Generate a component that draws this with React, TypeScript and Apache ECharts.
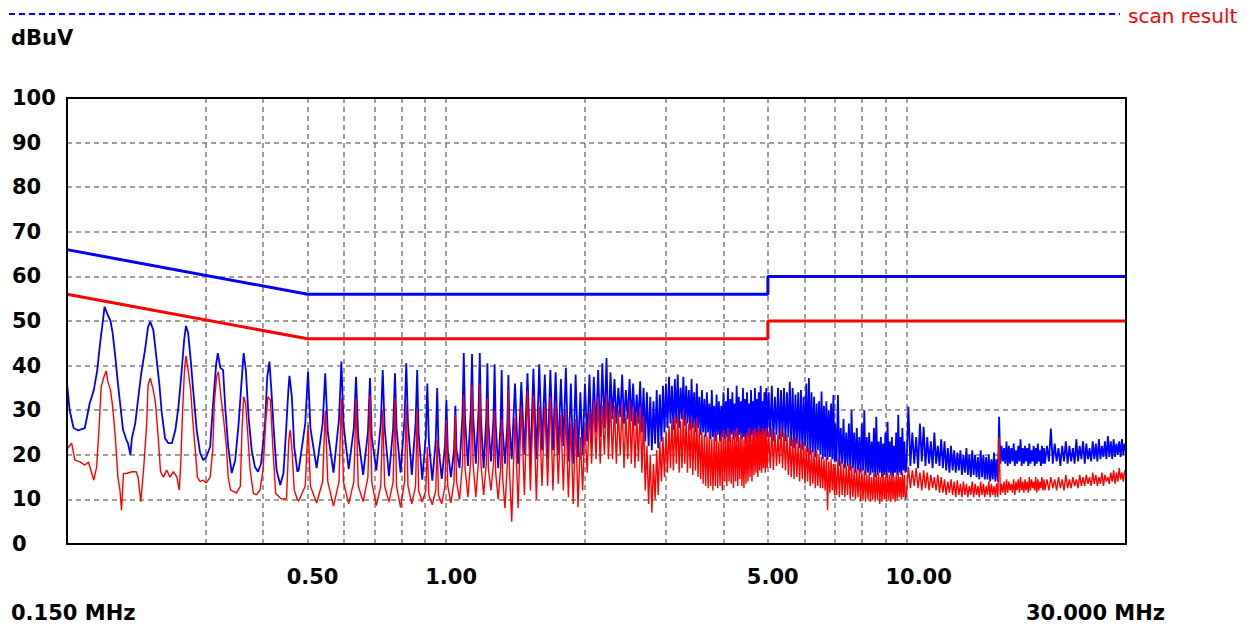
import React, { useEffect, useRef } from "react";
import * as echarts from "echarts";

// ---- axis ticks ----
const yMin = 0;
const yMax = 100;
const yStep = 10;
const xMinMHz = 0.15;
const xMaxMHz = 30;
const xGridMHz = [0.2, 0.3, 0.4, 0.5, 0.6, 0.7, 0.8, 0.9, 1, 2, 3, 4, 5, 6, 7, 8, 9, 10, 20];
const xLabelMHz = [0.5, 1, 5, 10];

// ---- limit lines (MHz, dBuV) ----
const limitMHz = [0.15, 0.5, 5, 5, 30];
const qpLimit = [66, 56, 56, 60, 60];
const avLimit = [56, 46, 46, 50, 50];

// ---- scan, 0.15 - 0.48 MHz : [kHz, dBuV] ----
const peakLow: [number, number][] = [
  [150, 36], [152, 30], [155, 26], [158.5, 25.5], [164, 26], [168, 31.5], [171.5, 34.5], [174.5, 39], [177, 45], [179.5, 50],
  [181, 53.2], [184, 51.3], [186.5, 50], [188.5, 47.3], [191, 42], [193.5, 36], [196, 30.8], [198.5, 25.6], [202, 23.3], [203.5, 22.6],
  [206, 20], [207.5, 23.7], [211, 27], [214, 32.3], [217.5, 38.3], [222, 44], [225, 48.7], [227.5, 49.8], [231, 48], [234.5, 42],
  [238, 36], [241, 29.4], [245, 23.7], [249, 22.6], [253.5, 22.6], [258, 25.6], [262, 30.8], [266, 38.3], [269.5, 45.7], [272, 48.9],
  [275, 47.3], [278.5, 41.3], [282, 34.5], [287, 25.6], [292, 20.4], [296.5, 18.8], [301, 19.5], [307, 21.8], [312, 32.3], [316.5, 40.5],
  [319, 42.8], [323, 39.5], [327.5, 39], [331, 30.8], [336, 21.8], [342, 15.9], [348, 18.8], [354, 27], [359, 36], [363, 42.8],
  [367, 39], [372, 28.5], [378, 21], [384, 17.3], [390, 16.2], [396, 18], [404, 27], [408.5, 37.5], [413, 40.9], [417, 34.5],
  [422, 25.6], [428, 16.6], [436, 13.2], [443, 15.9], [449, 25.6], [454, 34.5], [456.5, 37.7], [462, 33], [467.5, 21.8], [475, 16.2],
];
const avgLow: [number, number][] = [
  [150, 21.3], [153.5, 22.6], [156, 18.8], [160, 18.4], [164, 17.7], [167, 18.4], [171.5, 14.3], [174, 17.3], [176, 25.6], [178, 35.3],
  [180.5, 37.5], [182.5, 38.8], [184, 36.4], [186.5, 34.5], [188.5, 30.8], [191, 24], [193.5, 15], [195.5, 12.1], [197, 7.6], [199, 15.8],
  [202, 15.8], [207.5, 16.2], [212, 16.2], [214, 15], [217, 9.5], [220, 16.6], [223.5, 27], [225, 35.6], [227.5, 37.2], [231, 34.5],
  [233.5, 31.6], [237, 23.3], [239.5, 16.2], [243, 15], [247, 16.6], [251, 15], [255.5, 16.2], [260, 15], [263, 12.1], [265, 18],
  [267.5, 30], [270, 39], [272, 42.2], [275, 39], [278.5, 34.5], [281, 28.5], [285, 21], [288, 15], [292, 14], [296.5, 14.3],
  [301, 13.7], [307, 15], [311, 21], [313.5, 31.6], [317, 37.5], [320, 38.6], [324, 33], [328, 28.5], [333, 21.8], [336, 15],
  [340, 12.1], [345, 11.8], [350, 11.4], [357, 12.9], [360, 25.6], [363, 33], [366.5, 31.6], [370, 25.6], [375, 16.6], [381, 11.4],
  [387, 11], [394, 12.1], [400, 16.6], [406, 28.5], [410, 33], [415, 32.3], [420, 21.8], [426, 11.4], [436, 10.3], [443, 10],
  [450, 10.3], [455, 23.3], [458, 25.6], [462, 21.8], [467.5, 12.1], [475, 10],
];

// ---- scan, 0.48 - 1.37 MHz (harmonics, 4 samples each) ----
const sweepBkHz = [
  478, 494, 501, 507, 523, 539, 546, 553, 569, 585, 592, 598, 614, 630, 637, 644, 660, 676, 683, 689,
  705, 721, 728, 735, 751, 767, 774, 780, 796, 812, 819, 826, 842, 858, 865, 871, 887, 903, 910, 917,
  933, 949, 956, 962, 978, 994, 1001, 1008, 1024, 1040, 1047, 1053, 1069, 1085, 1092, 1099, 1115, 1131, 1138, 1144,
  1160, 1176, 1183, 1190, 1206, 1222, 1229, 1235, 1251, 1267, 1274, 1281, 1297, 1313, 1320, 1326, 1342, 1358, 1365, 1372,
];
const peakB = [
  16.5, 27, 38.6, 26, 17, 27, 38.3, 25, 16, 28, 40.9, 27, 16.8, 26, 37.5, 24, 15.5, 25, 37.2, 24,
  16.5, 27, 39, 26, 15.2, 26, 38.3, 26, 16, 28, 40.5, 27, 15.5, 27, 39, 25, 14.4, 24, 36, 23,
  14.2, 23, 35, 22, 14.6, 22, 32.3, 21, 15, 21, 31, 21, 17, 29, 42.8, 28, 17.5, 30, 42.6, 29,
  18, 30, 42.8, 28, 17, 28, 40.5, 27, 18.5, 28, 40.3, 27, 17, 27, 39, 26, 18, 27, 37.9, 27,
];
const avgB = [
  9.6, 13, 26.7, 13, 9.2, 14, 30, 14, 8.5, 14, 32.7, 14, 9, 14, 32.7, 13, 9.5, 15, 33.4, 14,
  8.6, 13, 30, 13, 9.4, 14, 32.7, 13, 8.2, 14, 31.2, 13, 9, 13, 30, 12, 9.4, 12, 21.8, 11,
  8.8, 12, 23.3, 11, 9, 13, 27.8, 13, 9.2, 14, 28.9, 14, 10, 18, 33.4, 17, 10.5, 19, 35.6, 18,
  10.5, 19, 36, 18, 11, 18, 32.7, 17, 12, 18, 30, 16, 10, 17, 28, 15, 8, 18, 34.5, 17,
];

// ---- scan, 1.39 - 4.98 MHz (harmonics, valley / peak) ----
const sweepCkHz = [
  1388, 1411, 1433, 1456, 1479, 1502, 1524, 1547, 1570, 1593, 1615, 1638, 1661, 1684, 1706, 1729, 1752, 1775, 1797, 1820,
  1843, 1866, 1888, 1911, 1934, 1957, 1979, 2002, 2025, 2048, 2070, 2093, 2116, 2139, 2161, 2184, 2207, 2230, 2252, 2275,
  2298, 2321, 2343, 2366, 2389, 2412, 2434, 2457, 2480, 2503, 2525, 2548, 2571, 2594, 2616, 2639, 2662, 2685, 2707, 2730,
  2753, 2776, 2798, 2821, 2844, 2867, 2889, 2912, 2935, 2958, 2980, 3003, 3026, 3049, 3071, 3094, 3117, 3140, 3162, 3185,
  3208, 3231, 3253, 3276, 3299, 3322, 3344, 3367, 3390, 3413, 3435, 3458, 3481, 3504, 3526, 3549, 3572, 3595, 3617, 3640,
  3663, 3686, 3708, 3731, 3754, 3777, 3799, 3822, 3845, 3868, 3890, 3913, 3936, 3959, 3981, 4004, 4027, 4050, 4072, 4095,
  4118, 4141, 4163, 4186, 4209, 4232, 4254, 4277, 4300, 4323, 4345, 4368, 4391, 4414, 4436, 4459, 4482, 4505, 4527, 4550,
  4573, 4596, 4618, 4641, 4664, 4687, 4709, 4732, 4755, 4778, 4800, 4823, 4846, 4869, 4891, 4914, 4937, 4960, 4982,
];
const peakC = [
  19, 36, 18, 36.3, 20, 38.3, 17.5, 39.3, 19, 40.3, 21, 38, 19, 39, 21, 38.5, 20, 37, 22, 39.5,
  18.5, 36, 18, 38, 19.5, 34, 20, 36, 23, 38, 22, 37.5, 25, 39, 24, 40.5, 26, 41.7, 24, 38.5,
  28, 37, 27, 35, 28.5, 38, 27, 34.5, 28, 37, 27.5, 36, 26.5, 33.5, 27, 36.5, 25, 35, 23, 34,
  22, 33, 21, 32, 22.5, 34.5, 21.5, 33.5, 23, 35.5, 25, 36, 26, 37.5, 27, 35.5, 25.5, 37, 27, 38,
  26, 35, 28, 37.5, 26.5, 35.5, 27, 34.5, 25.5, 37, 26, 34, 25, 36, 26, 33, 24.5, 34.5, 25, 32.5,
  24, 34, 25, 31.5, 23.5, 34.5, 24, 31, 23, 33.5, 24.5, 32, 23, 31, 24, 34, 23.5, 32, 24, 35,
  23, 32.5, 24.5, 34, 23.5, 31.5, 24, 35.5, 23, 33, 24.5, 32, 23.5, 35, 24, 32.5, 22.5, 34, 24, 31.5,
  23, 34.5, 24.5, 32, 23, 35, 24, 32.5, 23.5, 34, 24, 35.5, 23, 32, 24.5, 34, 23.5, 35, 24,
];
const avgC = [
  5, 28.3, 8, 30.8, 11, 34.3, 12, 33.4, 10, 30.8, 13, 31, 13, 33, 12, 31, 13.5, 29, 12, 30,
  10.5, 27, 9, 28, 8.3, 24, 12, 27, 16, 30, 18, 32, 19, 33, 18, 31, 20, 33.5, 19, 32,
  19, 31, 18, 30, 20, 31.5, 17, 29, 19, 32, 18, 30.5, 17, 29, 18.5, 31, 16, 28.5, 12, 22,
  9, 20, 7, 18, 10, 21, 11, 23, 14, 24, 15, 25, 16, 26.5, 17, 28, 16.5, 28.5, 18, 29,
  16, 27.5, 17, 29.5, 18, 28, 16, 27, 17, 28.5, 15.5, 27, 16.5, 28, 15, 26, 14.5, 25, 13.5, 24.5,
  13, 24, 12.5, 25, 13, 23.5, 12, 24, 13, 25, 12.5, 23, 13, 24.5, 12, 25.5, 14, 24, 13, 26,
  14, 25, 13.5, 24, 12.5, 25.5, 14, 26, 13, 24, 14.5, 25, 13, 23.5, 12.5, 24.5, 13.5, 25, 14, 26,
  15, 24.5, 14, 25.5, 15.5, 26, 16, 25, 15, 26.5, 16.5, 25, 16, 26, 17, 25.5, 16, 26, 17,
];

// ---- scan, 5 - 7 MHz ----
const sweepD1kHz = [
  5020, 5060, 5100, 5140, 5180, 5220, 5260, 5300, 5340, 5380,
  5420, 5460, 5500, 5540, 5580, 5620, 5660, 5700, 5740, 5780,
  5820, 5860, 5900, 5940, 5980, 6020, 6060, 6100, 6140, 6180,
  6220, 6260, 6300, 6340, 6380, 6420, 6460, 6500, 6540, 6580,
  6620, 6660, 6700, 6740, 6780, 6820, 6860, 6900, 6940, 6980,
];
const peakD1 = [
  34, 24, 35.5, 23, 33, 24.5, 35, 23.5, 34.5, 24,
  35, 23, 34, 24, 36.4, 22, 35, 21.5, 33.5, 22.5,
  34, 21.5, 34.5, 21, 33, 22, 36, 20.5, 37.2, 20,
  34, 20.5, 33, 19.5, 31.5, 21, 32, 20, 34.2, 19,
  31, 19.5, 32, 18.8, 30, 19.5, 31.5, 19, 33.4, 18.5,
];
const avgD1 = [
  25, 17, 26, 16.6, 25, 17.5, 24.5, 18, 26, 17,
  25, 16.5, 24.5, 15.5, 24, 15, 23.5, 14.5, 24, 15,
  23, 14, 22.5, 14.5, 23, 13.5, 22, 14, 21.5, 13,
  21, 13.5, 20.5, 12.5, 21, 13, 20, 12.5, 19.5, 12.5,
  19, 12, 19.5, 7.6, 18.5, 11.5, 19, 12, 18, 11,
];

// ---- scan, 7 - 10 MHz ----
const sweepD2kHz = [
  7000, 7050, 7100, 7150, 7200, 7250, 7300, 7350, 7400, 7450,
  7500, 7550, 7600, 7650, 7700, 7750, 7800, 7850, 7900, 7950,
  8000, 8050, 8100, 8150, 8200, 8250, 8300, 8350, 8400, 8450,
  8500, 8550, 8600, 8650, 8700, 8750, 8800, 8850, 8900, 8950,
  9000, 9050, 9100, 9150, 9200, 9250, 9300, 9350, 9400, 9450,
  9500, 9550, 9600, 9650, 9700, 9750, 9800, 9850, 9900, 9950,
];
const peakD2 = [
  27, 18.5, 33.4, 17.5, 26, 18, 28, 17, 25, 17.5,
  27, 16.5, 30, 17, 25, 16, 26, 16.5, 24, 16,
  27, 16.5, 30, 15.5, 24, 16, 25, 15.5, 23, 16,
  26, 15, 28.5, 15.5, 23, 16, 24, 15, 22.5, 15.5,
  25, 15, 27.4, 16, 23, 15.5, 24, 15, 22, 16,
  25, 15.5, 29, 16, 24, 15.5, 26, 16.5, 23, 16,
];
const avgD2 = [
  18, 11, 19, 10.5, 18.5, 11, 18, 10.5, 17.5, 11,
  18, 10, 17.5, 10.5, 17, 10, 16.5, 10.5, 17, 9.5,
  16, 10, 16.5, 9.5, 15.5, 10, 16, 9.5, 15, 10,
  16, 9.5, 15.5, 10, 16, 9, 15, 9.5, 16, 10,
  15, 9.5, 16, 10, 15.5, 9.5, 16, 10, 15, 9.5,
  15.5, 10, 16, 10.5, 15, 10, 16, 10.5, 15.5, 10,
];

// ---- scan, 10 - 20 MHz ----
const sweepD3kHz = [
  10000, 10100, 10200, 10300, 10400, 10500, 10600, 10700, 10800, 10900,
  11000, 11100, 11200, 11300, 11400, 11500, 11600, 11700, 11800, 11900,
  12000, 12100, 12200, 12300, 12400, 12500, 12600, 12700, 12800, 12900,
  13000, 13100, 13200, 13300, 13400, 13500, 13600, 13700, 13800, 13900,
  14000, 14100, 14200, 14300, 14400, 14500, 14600, 14700, 14800, 14900,
  15000, 15100, 15200, 15300, 15400, 15500, 15600, 15700, 15800, 15900,
  16000, 16100, 16200, 16300, 16400, 16500, 16600, 16700, 16800, 16900,
  17000, 17100, 17200, 17300, 17400, 17500, 17600, 17700, 17800, 17900,
  18000, 18100, 18200, 18300, 18400, 18500, 18600, 18700, 18800, 18900,
  19000, 19100, 19200, 19300, 19400, 19500, 19600, 19700, 19800, 19900,
];
const peakD3 = [
  17, 30.8, 17.5, 25, 18, 24, 17, 27, 18.5, 26.3,
  17.5, 24, 18, 23, 17, 25, 18, 22, 17.5, 23.5,
  17, 23, 16.5, 21.5, 16, 22, 16.5, 21, 16, 20.5,
  16.5, 21, 15.5, 20, 16, 21.5, 15.5, 20, 15, 21,
  15.5, 20, 15, 19.5, 14.5, 21, 15, 20, 14.5, 19.5,
  14.5, 20, 14, 19, 14.5, 20.5, 14, 19, 14, 28.5,
  18, 22, 18.5, 21.5, 18, 23, 17.5, 22, 18, 21.5,
  18.5, 22.5, 17.5, 21, 18, 22, 18.5, 23.5, 17.5, 21.5,
  18, 22, 18.5, 21.5, 17.5, 22.5, 18, 21, 18.5, 22,
  17.5, 21.5, 18, 22.5, 18.5, 21, 17.5, 22, 18, 21.5,
];
const avgD3 = [
  11, 17.3, 12.5, 16.5, 13, 17, 12.5, 16, 12, 16.5,
  12.5, 16, 12, 15.5, 12.5, 15, 12, 15.5, 11.5, 15,
  11.5, 14.5, 11, 14, 11.5, 14.5, 11, 14, 10.5, 14.3,
  11, 13.5, 10.5, 14, 11, 13.5, 10.5, 13, 11, 14,
  10.5, 13.5, 11, 13, 10.5, 14, 11, 13.5, 10.5, 13,
  11, 14, 10.5, 13.5, 11, 13, 10.5, 13.5, 10.5, 24,
  11, 13.5, 11.5, 14, 11, 14.5, 11.5, 14, 12, 13.5,
  11.5, 14.5, 11, 14, 12, 14.5, 11.5, 15, 12, 14,
  11.5, 14.5, 12, 14, 11.5, 15, 12, 14.5, 12.5, 14,
  12, 15, 11.5, 14.5, 12, 14, 12.5, 15, 12, 14.5,
];

// ---- scan, 20 - 30 MHz ----
const sweepD4kHz = [
  20000, 20200, 20400, 20600, 20800, 21000, 21200, 21400, 21600, 21800,
  22000, 22200, 22400, 22600, 22800, 23000, 23200, 23400, 23600, 23800,
  24000, 24200, 24400, 24600, 24800, 25000, 25200, 25400, 25600, 25800,
  26000, 26200, 26400, 26600, 26800, 27000, 27200, 27400, 27600, 27800,
  28000, 28200, 28400, 28600, 28800, 29000, 29200, 29400, 29600, 29800, 30000,
];
const peakD4 = [
  18, 22, 18.5, 25.9, 18, 22.5, 18.5, 21.5, 17.5, 22,
  18.5, 23, 18, 22, 18.5, 21.5, 18, 23.5, 18.5, 22,
  19, 23, 18, 22.5, 19, 21.5, 18.5, 23, 19, 22.5,
  18.5, 23.5, 19, 22, 19.5, 23, 19, 24.2, 19.5, 23,
  19, 23.5, 19.5, 22.5, 20, 23, 19.5, 23.5, 20, 22.5, 21,
];
const avgD4 = [
  12, 14.5, 12, 15, 12.5, 14.5, 12, 15, 12.5, 14.5,
  12, 15.5, 12.5, 14.5, 12.5, 15, 13, 14.5, 12.5, 15.5,
  13, 15, 13, 15.5, 13.5, 15, 13, 16, 13.5, 15.5,
  13, 15, 13.5, 16, 13, 15.5, 14, 15, 13.5, 16,
  14, 16.5, 13.5, 16, 14, 17, 14.5, 16, 14, 16.5, 15,
];

const FONT = "DejaVu Sans";

function lg(mhz: number) {
  return Math.log10(mhz);
}

function buildTrace(low: [number, number][], parts: [number[], number[]][]) {
  const out: number[][] = low.map(([k, v]) => [lg(k / 1000), v]);
  parts.forEach(([freqs, vals]) => {
    freqs.forEach((k, i) => out.push([lg(k / 1000), vals[i]]));
  });
  return out;
}

export default function App() {
  const ref = useRef<HTMLDivElement>(null);

  useEffect(() => {
    if (!ref.current) return;
    const chart = echarts.init(ref.current, undefined, { renderer: "svg" });

    const peakData = buildTrace(peakLow, [
      [sweepBkHz, peakB], [sweepCkHz, peakC], [sweepD1kHz, peakD1],
      [sweepD2kHz, peakD2], [sweepD3kHz, peakD3], [sweepD4kHz, peakD4],
    ]);
    const avgData = buildTrace(avgLow, [
      [sweepBkHz, avgB], [sweepCkHz, avgC], [sweepD1kHz, avgD1],
      [sweepD2kHz, avgD2], [sweepD3kHz, avgD3], [sweepD4kHz, avgD4],
    ]);
    const qpData = limitMHz.map((f, i) => [lg(f), qpLimit[i]]);
    const avData = limitMHz.map((f, i) => [lg(f), avLimit[i]]);

    const gridLine = { color: "#808080", type: [5, 4] as number[], width: 1.5 };
    const cornerText = { fill: "#000000", fontFamily: FONT, fontWeight: "bold", fontSize: 21, lineHeight: 18, verticalAlign: "middle" };

    chart.setOption({
      animation: false,
      backgroundColor: "#ffffff",
      grid: {
        left: 67,
        top: 98,
        width: 1059,
        height: 446,
        containLabel: false,
        outerBoundsMode: "none",
        show: true,
        borderColor: "#000000",
        borderWidth: 2,
        backgroundColor: "transparent",
        z: 5,
      },
      xAxis: {
        type: "value",
        min: lg(xMinMHz),
        max: lg(xMaxMHz),
        axisLine: { show: false },
        axisTick: { show: false, customValues: xGridMHz.map(lg) },
        splitLine: { show: true, lineStyle: gridLine, showMinLine: false, showMaxLine: false },
        axisLabel: {
          customValues: xLabelMHz.map(lg),
          formatter: (v: number) => Math.pow(10, v).toFixed(2),
          color: "#000000",
          fontFamily: FONT,
          fontWeight: "bold",
          fontSize: 21,
          margin: 22,
          align: "left",
          padding: [0, 0, 0, -21],
        },
      },
      yAxis: {
        type: "value",
        min: yMin,
        max: yMax,
        interval: yStep,
        axisLine: { show: false },
        axisTick: { show: false },
        splitLine: { show: true, lineStyle: gridLine, showMinLine: false, showMaxLine: false },
        axisLabel: {
          color: "#000000",
          fontFamily: FONT,
          fontWeight: "bold",
          fontSize: 21,
          margin: 55,
          align: "left",
          padding: [8, 0, 0, 0],
        },
      },
      graphic: [
        {
          type: "line",
          shape: { x1: 9, y1: 14, x2: 1120, y2: 14 },
          style: { stroke: "#0000ff", lineWidth: 2, lineDash: [6, 4] },
        },
        {
          type: "text",
          x: 1128,
          y: 16,
          style: { text: "scan result", fill: "#ff0000", fontFamily: FONT, fontSize: 20, verticalAlign: "middle", align: "left" },
        },
        {
          type: "text",
          x: 11,
          y: 38,
          style: { text: "dBuV", fill: "#000000", fontFamily: FONT, fontWeight: "bold", fontSize: 21, verticalAlign: "middle", align: "left" },
        },
        {
          type: "text",
          x: 11,
          y: 613,
          style: { ...cornerText, text: "0.150 MHz", align: "left" },
        },
        {
          type: "text",
          x: 1165,
          y: 613,
          style: { ...cornerText, text: "30.000 MHz", align: "right" },
        },
      ],
      series: [
        {
          name: "QP limit",
          type: "line",
          data: qpData,
          symbol: "none",
          silent: true,
          lineStyle: { color: "#0000ff", width: 3 },
          z: 3,
        },
        {
          name: "AV limit",
          type: "line",
          data: avData,
          symbol: "none",
          silent: true,
          lineStyle: { color: "#ff0000", width: 3 },
          z: 3,
        },
        {
          name: "Peak scan",
          type: "line",
          data: peakData,
          symbol: "none",
          silent: true,
          lineStyle: { color: "#0000ff", width: 1.8 },
          z: 3,
        },
        {
          name: "Average scan",
          type: "line",
          data: avgData,
          symbol: "none",
          silent: true,
          lineStyle: { color: "#ff0000", width: 1.4 },
          z: 4,
        },
      ],
    });

    return () => {
      chart.dispose();
    };
  }, []);

  return (
    <div
      ref={ref}
      style={{ position: "absolute", left: 0, top: 0, width: 1247, height: 624, background: "#fff" }}
    />
  );
}
